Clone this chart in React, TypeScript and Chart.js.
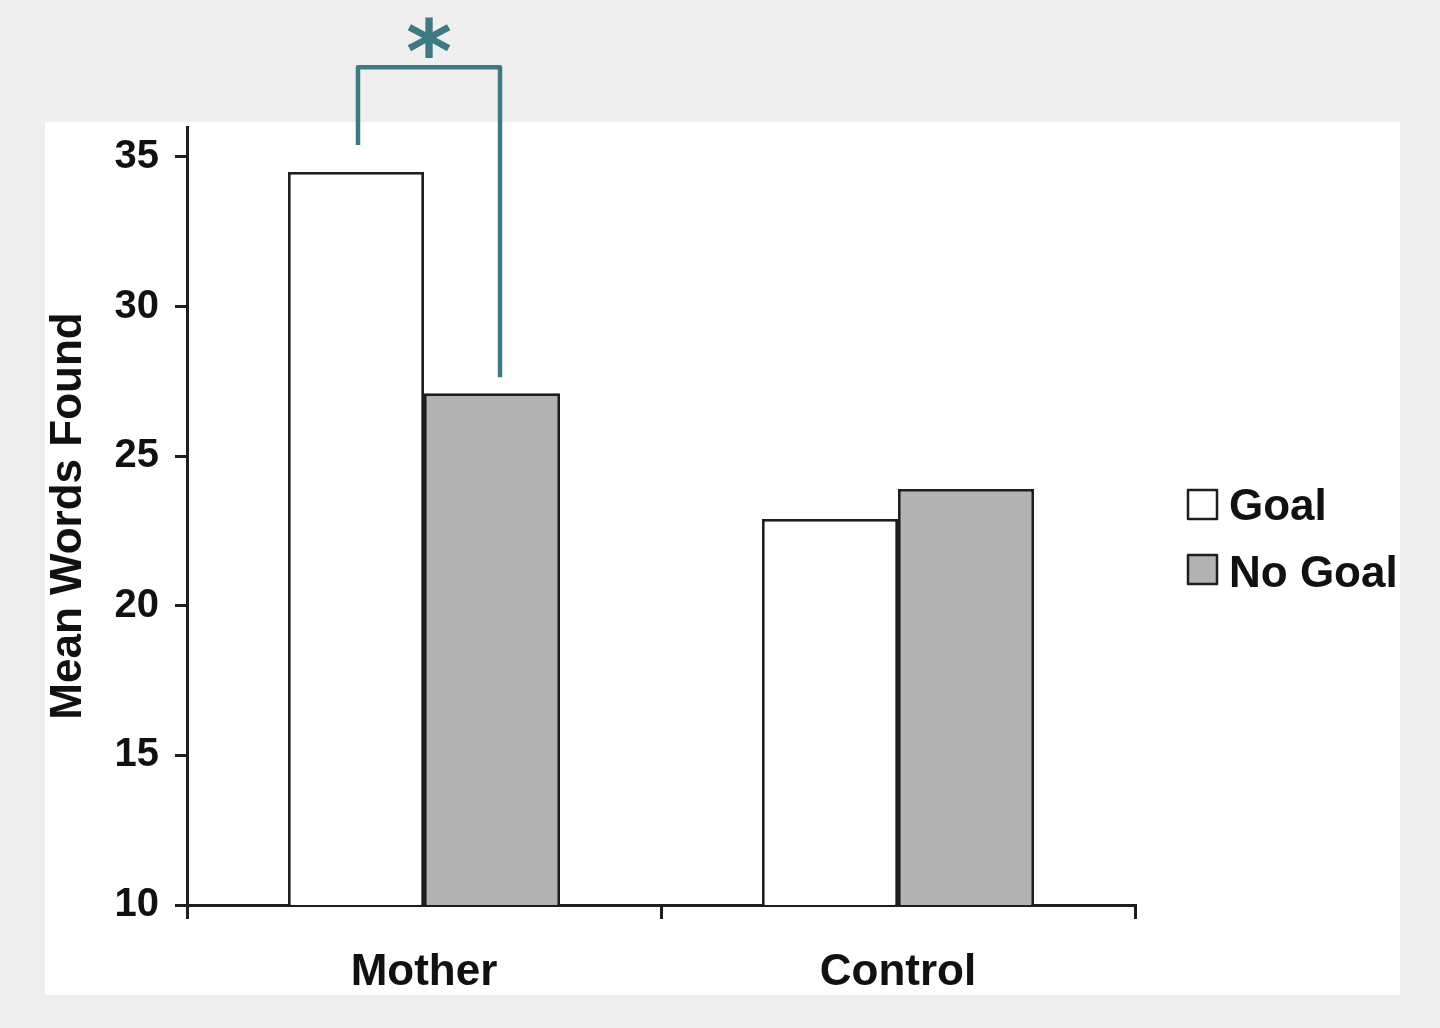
import React, { useEffect, useRef } from "react";
import { Chart, registerables } from "chart.js";

Chart.register(...registerables);

// ---- data ----
const categories = ["Mother", "Control"];
const seriesLabels = ["Goal", "No Goal"];
const goalValues = [34.5, 22.9];
const noGoalValues = [27.1, 23.9];
const yTickValues = [10, 15, 20, 25, 30, 35];
const yMin = 10;
const yMax = 36;
const bracketTopValue = 38;
const significanceMark = "*";

const FONT = '"Liberation Sans", Arial, Helvetica, sans-serif';
const INK = "#1e1e1e";
const TEAL = "#3d7a82";

const decorPlugin = {
  id: "decor",
  beforeDraw(chart: any) {
    const { ctx, width, height } = chart;
    ctx.save();
    ctx.fillStyle = "#efefef";
    ctx.fillRect(0, 0, width, height);
    ctx.fillStyle = "#ffffff";
    ctx.fillRect(45, 122, 1355, 873);
    ctx.restore();
  },
  afterDraw(chart: any) {
    const { ctx } = chart;
    const y = chart.scales.y;
    const a = chart.getDatasetMeta(0).data[0];
    const b = chart.getDatasetMeta(1).data[0];
    const x1 = a.x + 2;
    const x2 = b.x + 8;
    const yTop = y.getPixelForValue(bracketTopValue);
    ctx.save();
    ctx.strokeStyle = TEAL;
    ctx.lineWidth = 4.5;
    ctx.lineJoin = "round";
    ctx.lineCap = "butt";
    ctx.beginPath();
    ctx.moveTo(x1, a.y - 27);
    ctx.lineTo(x1, yTop);
    ctx.lineTo(x2, yTop);
    ctx.lineTo(x2, b.y - 16);
    ctx.stroke();
    ctx.fillStyle = TEAL;
    ctx.font = `bold 88px "DejaVu Sans", ${FONT}`;
    ctx.textAlign = "center";
    ctx.textBaseline = "alphabetic";
    ctx.fillText(significanceMark, (x1 + x2) / 2, yTop + 15);

    // legend
    const ds = chart.data.datasets;
    const boxX = 1188;
    const boxYs = [490, 555];
    const baseYs = [520, 587];
    ctx.font = `bold 44px ${FONT}`;
    ctx.textAlign = "left";
    ds.forEach((d: any, i: number) => {
      ctx.fillStyle = d.backgroundColor;
      ctx.fillRect(boxX, boxYs[i], 29, 29);
      ctx.strokeStyle = INK;
      ctx.lineWidth = 2.5;
      ctx.strokeRect(boxX, boxYs[i], 29, 29);
      ctx.fillStyle = "#111111";
      ctx.fillText(d.label, 1229, baseYs[i]);
    });
    ctx.restore();
  },
};

export default function App() {
  const ref = useRef<HTMLCanvasElement | null>(null);

  useEffect(() => {
    document.body.style.margin = "0";
    const canvas = ref.current;
    if (!canvas) return;
    const chart = new Chart(canvas, {
      type: "bar",
      data: {
        labels: categories,
        datasets: [
          {
            label: seriesLabels[0],
            data: goalValues,
            backgroundColor: "#ffffff",
            borderColor: INK,
            borderWidth: 2.8,
          },
          {
            label: seriesLabels[1],
            data: noGoalValues,
            backgroundColor: "#b3b3b3",
            borderColor: INK,
            borderWidth: 2.8,
          },
        ],
      },
      options: {
        animation: false,
        responsive: false,
        devicePixelRatio: 1,
        layout: { padding: { left: 45, top: 127, right: 305, bottom: 0 } },
        datasets: {
          bar: { categoryPercentage: 0.574, barPercentage: 1.0 },
        },
        plugins: {
          legend: { display: false },
          tooltip: { enabled: false },
        },
        scales: {
          x: {
            grid: {
              display: true,
              drawOnChartArea: false,
              drawTicks: true,
              tickLength: 14,
              color: INK,
              lineWidth: 3,
              offset: true,
            },
            border: { display: true, color: INK, width: 3 },
            ticks: {
              color: "#111111",
              font: { family: FONT, size: 44, weight: "bold" },
              padding: 27,
            },
            afterFit(scale: any) {
              scale.height = 123;
            },
          },
          y: {
            min: yMin,
            max: yMax,
            afterBuildTicks(scale: any) {
              scale.ticks = yTickValues.map((v) => ({ value: v }));
            },
            grid: {
              display: true,
              drawOnChartArea: false,
              drawTicks: true,
              tickLength: 12,
              color: INK,
              lineWidth: 3,
            },
            border: { display: true, color: INK, width: 3 },
            ticks: {
              color: "#111111",
              font: { family: FONT, size: 40, weight: "bold" },
              padding: 16,
            },
            title: {
              display: true,
              text: "Mean Words Found",
              color: "#111111",
              font: { family: FONT, size: 44, weight: "bold", lineHeight: 1 },
              padding: { top: 2, bottom: 0 },
            },
            afterFit(scale: any) {
              scale.width = 142;
            },
          },
        },
      },
      plugins: [decorPlugin],
    });
    return () => chart.destroy();
  }, []);

  return (
    <div style={{ width: 1440, height: 1028 }}>
      <canvas ref={ref} width={1440} height={1028} style={{ display: "block" }} />
    </div>
  );
}
